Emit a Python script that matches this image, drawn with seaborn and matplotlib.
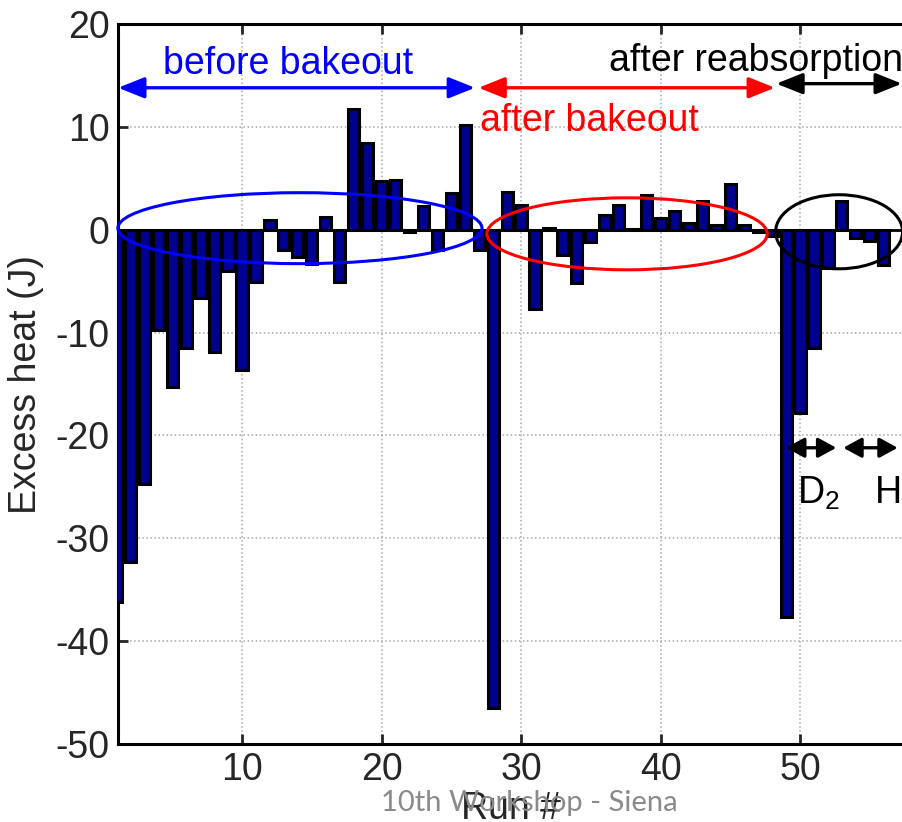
import matplotlib
matplotlib.use("Agg")
import matplotlib.pyplot as plt
import seaborn as sns
import pandas as pd
from matplotlib.patches import Ellipse, FancyArrowPatch

# ---- data ----
runs = list(range(1, 57))
excess_heat = [
    -36.2, -32.3, -24.7, -9.75, -15.3, -11.5, -6.6, -11.9, -4.0, -13.6,
    -5.1, 0.9, -2.0, -2.7, -3.3, 1.2, -5.1, 11.7, 8.4, 4.7,
    4.85, -0.2, 2.3, -2.0, 3.6, 10.2, -2.0, -46.5, 3.7, 2.4,
    -7.7, 0.2, -2.5, -5.2, -1.2, 1.4, 2.4, 0.1, 3.4, 1.1,
    1.8, 0.7, 2.8, 0.5, 4.4, 0.5, -0.2, -0.6, -37.7, -17.8,
    -11.5, -3.7, 2.8, -0.8, -1.1, -3.4,
]
x_ticks = [10, 20, 30, 40, 50]
y_ticks = [-50, -40, -30, -20, -10, 0, 10, 20]
x_label = "Run #"
y_label = "Excess heat (J)"
watermark = "10th Workshop - Siena"

df = pd.DataFrame({"run": runs, "heat": excess_heat})

sns.set_theme(style="white")
plt.rcParams["font.family"] = ["Liberation Sans", "DejaVu Sans"]
plt.rcParams["axes.unicode_minus"] = False
plt.rcParams["mathtext.default"] = "regular"

FS = 27

fig = plt.figure(figsize=(9.03, 8.22), dpi=100)
ax = fig.add_axes([118 / 903, 1 - 744 / 822, 1 - 118 / 903, (744 - 24) / 822])

sns.barplot(data=df, x="run", y="heat", native_scale=True, width=0.8,
            color="#000090", saturation=1, edgecolor="black", linewidth=2.2,
            errorbar=None, ax=ax, zorder=3)

ax.axhline(0, color="black", lw=2, zorder=4)

ax.set_xlim(1.11, 57.38)
ax.set_ylim(-50, 20)
ax.set_xticks(x_ticks)
ax.set_yticks(y_ticks)
ax.set_xticklabels([str(t) for t in x_ticks])
ax.set_yticklabels([str(t) for t in y_ticks])
ax.tick_params(direction="in", length=7, width=2, labelsize=FS,
               top=True, bottom=True, left=True, right=False, pad=6)
ax.grid(True, linestyle=":", color="#a8a8a8", lw=1.1, zorder=0)
ax.set_axisbelow(True)
for s in ["left", "bottom", "top"]:
    ax.spines[s].set_color("black")
    ax.spines[s].set_linewidth(2.2)
ax.spines["right"].set_visible(False)

ax.set_xlabel(x_label, fontsize=FS, labelpad=2)
ax.set_ylabel(y_label, fontsize=FS, labelpad=8)

# ---- ellipses ----
for (cx, cy, w, h, c) in [(14.15, 0.15, 26.1, 6.9, "#0000ff"),
                          (37.6, -0.4, 20.1, 7.0, "#ff0000"),
                          (52.8, -0.2, 9.1, 7.2, "black")]:
    ax.add_patch(Ellipse((cx, cy), w, h, fill=False, edgecolor=c, lw=2.2,
                         zorder=5, clip_on=False))

# ---- double-headed arrows ----
def darrow(x0, x1, y, c, hl=0.8, hw=0.32):
    ax.add_patch(FancyArrowPatch((x0, y), (x1, y),
                                 arrowstyle=f"<|-|>,head_length={hl},head_width={hw}",
                                 mutation_scale=20, color=c, lw=2.4,
                                 shrinkA=0, shrinkB=0, zorder=6, clip_on=False))

darrow(1.12, 26.7, 13.8, "#0000ff")
darrow(26.95, 48.2, 13.8, "#ff0000")
darrow(48.3, 57.3, 14.2, "black")
darrow(49.0, 52.6, -21.2, "black", hl=0.55, hw=0.3)
darrow(53.1, 57.0, -21.2, "black", hl=0.55, hw=0.3)

# ---- texts ----
ax.text(4.3, 15.13, "before bakeout", color="#0000ff", fontsize=FS,
        ha="left", va="baseline", zorder=7)
ax.text(27.05, 9.62, "after bakeout", color="#ff0000", fontsize=FS,
        ha="left", va="baseline", zorder=7)
ax.text(36.3, 15.45, "after reabsorption", color="black", fontsize=FS,
        ha="left", va="baseline", zorder=7, clip_on=False)
ax.text(49.75, -26.6, "D$_2$", color="black", fontsize=FS,
        ha="left", va="baseline", zorder=7)
ax.text(55.3, -26.6, "H$_2$", color="black", fontsize=FS,
        ha="left", va="baseline", zorder=7)

fig.text(529 / 903, 1 - 803 / 822, watermark, color="#8a8a8a", fontsize=21,
         family=["Lato", "DejaVu Sans"], ha="center", va="center")

fig.savefig("out.png", dpi=100)
